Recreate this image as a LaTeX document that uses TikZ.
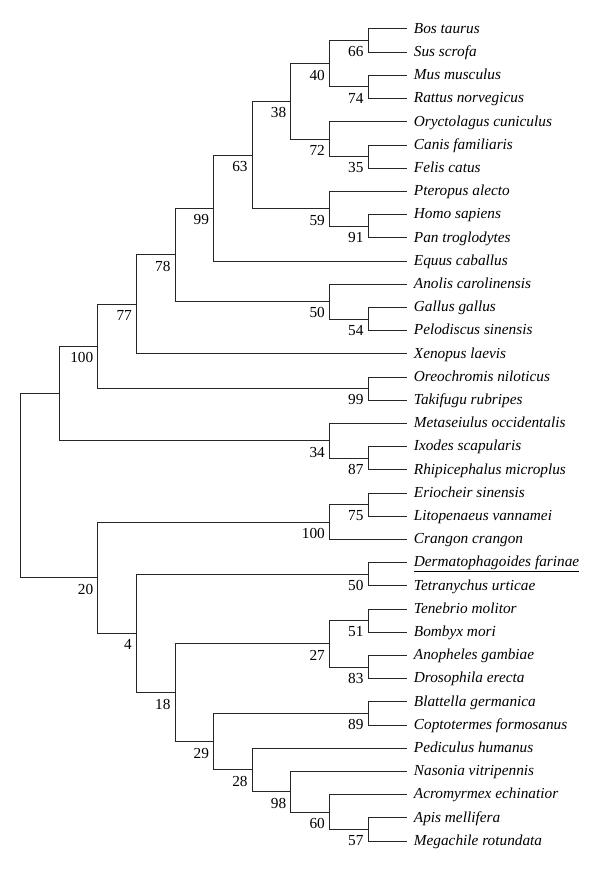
\documentclass[tikz,border=0pt]{standalone}
\usepackage{fontspec}
\setmainfont{Liberation Serif}

\begin{document}
\begin{tikzpicture}[
    x=38.6pt, y=-23.2pt,
    % --- Text styles ---
    leaf/.style={anchor=west, inner xsep=7pt, inner ysep=0pt,
                 text height=8.6pt, text depth=0pt,
                 font=\fontsize{15.3}{18}\selectfont\itshape},
    boot/.style={anchor=north east, inner sep=0pt, xshift=-4.5pt, yshift=-6pt,
                 font=\fontsize{15.3}{18}\selectfont},
    % --- Line style ---
    branch/.style={line width=1pt, draw=black!85},
]
\useasboundingbox (-20.7pt,29pt) rectangle (579.3pt,-843pt);

% === Taxa (one row each) ===
\foreach \nm/\txt [count=\i from 0] in {
    bos/Bos taurus, sus/Sus scrofa, mus/Mus musculus, rat/Rattus norvegicus,
    ory/Oryctolagus cuniculus, can/Canis familiaris, fel/Felis catus,
    pte/Pteropus alecto, hom/Homo sapiens, pan/Pan troglodytes,
    equ/Equus caballus, ano/Anolis carolinensis, gal/Gallus gallus,
    pel/Pelodiscus sinensis, xen/Xenopus laevis, ore/Oreochromis niloticus,
    tak/Takifugu rubripes, met/Metaseiulus occidentalis, ixo/Ixodes scapularis,
    rhi/Rhipicephalus microplus, eri/Eriocheir sinensis,
    lit/Litopenaeus vannamei, cra/Crangon crangon,
    der/\underline{Dermatophagoides farinae}, tet/Tetranychus urticae,
    ten/Tenebrio molitor, bom/Bombyx mori, ano2/Anopheles gambiae,
    dro/Drosophila erecta, bla/Blattella germanica,
    cop/Coptotermes formosanus, ped/Pediculus humanus,
    nas/Nasonia vitripennis, acr/Acromyrmex echinatior, api/Apis mellifera,
    meg/Megachile rotundata}
  \node[leaf] (\nm) at (10,\i) {\txt};

% === Internal nodes: vertebrates and ticks/mites ===
\coordinate (n66)  at (9,0.5);
\coordinate (n74)  at (9,2.5);
\coordinate (n40)  at (8,1.5);
\coordinate (n35)  at (9,5.5);
\coordinate (n72)  at (8,4.75);
\coordinate (n38)  at (7,3.125);
\coordinate (n91)  at (9,8.5);
\coordinate (n59)  at (8,7.75);
\coordinate (n63)  at (6,5.4375);
\coordinate (n99a) at (5,7.71875);
\coordinate (n54)  at (9,12.5);
\coordinate (n50a) at (8,11.75);
\coordinate (n78)  at (4,9.734375);
\coordinate (n77)  at (3,11.8671875);
\coordinate (n99b) at (9,15.5);
\coordinate (n100a) at (2,13.68359375);
\coordinate (n87)  at (9,18.5);
\coordinate (n34)  at (8,17.75);
\coordinate (nvert) at (1,15.716796875);

% === Internal nodes: crustaceans, mites and insects ===
\coordinate (n75)  at (9,20.5);
\coordinate (n100b) at (8,21.25);
\coordinate (n50b) at (9,23.5);
\coordinate (n51)  at (9,25.5);
\coordinate (n83)  at (9,27.5);
\coordinate (n27)  at (8,26.5);
\coordinate (n89)  at (9,29.5);
\coordinate (n57)  at (9,34.5);
\coordinate (n60)  at (8,33.75);
\coordinate (n98)  at (7,32.875);
\coordinate (n28)  at (6,31.9375);
\coordinate (n29)  at (5,30.71875);
\coordinate (n18)  at (4,28.609375);
\coordinate (n4)   at (3,26.0546875);
\coordinate (n20)  at (2,23.65234375);
\coordinate (root) at (0,19.6845703125);

% === Branches ===
\draw[branch] (bos.west) -| (n66) |- (sus.west);
\draw[branch] (mus.west) -| (n74) |- (rat.west);
\draw[branch] (n66) -| (n40) |- (n74);
\draw[branch] (can.west) -| (n35) |- (fel.west);
\draw[branch] (ory.west) -| (n72) |- (n35);
\draw[branch] (n40) -| (n38) |- (n72);
\draw[branch] (hom.west) -| (n91) |- (pan.west);
\draw[branch] (pte.west) -| (n59) |- (n91);
\draw[branch] (n38) -| (n63) |- (n59);
\draw[branch] (n63) -| (n99a) |- (equ.west);
\draw[branch] (gal.west) -| (n54) |- (pel.west);
\draw[branch] (ano.west) -| (n50a) |- (n54);
\draw[branch] (n99a) -| (n78) |- (n50a);
\draw[branch] (n78) -| (n77) |- (xen.west);
\draw[branch] (ore.west) -| (n99b) |- (tak.west);
\draw[branch] (n77) -| (n100a) |- (n99b);
\draw[branch] (ixo.west) -| (n87) |- (rhi.west);
\draw[branch] (met.west) -| (n34) |- (n87);
\draw[branch] (n100a) -| (nvert) |- (n34);
\draw[branch] (eri.west) -| (n75) |- (lit.west);
\draw[branch] (n75) -| (n100b) |- (cra.west);
\draw[branch] (der.west) -| (n50b) |- (tet.west);
\draw[branch] (ten.west) -| (n51) |- (bom.west);
\draw[branch] (ano2.west) -| (n83) |- (dro.west);
\draw[branch] (n51) -| (n27) |- (n83);
\draw[branch] (bla.west) -| (n89) |- (cop.west);
\draw[branch] (api.west) -| (n57) |- (meg.west);
\draw[branch] (acr.west) -| (n60) |- (n57);
\draw[branch] (nas.west) -| (n98) |- (n60);
\draw[branch] (ped.west) -| (n28) |- (n98);
\draw[branch] (n89) -| (n29) |- (n28);
\draw[branch] (n27) -| (n18) |- (n29);
\draw[branch] (n50b) -| (n4) |- (n18);
\draw[branch] (n100b) -| (n20) |- (n4);
\draw[branch] (nvert) -| (root) |- (n20);

% === Bootstrap values ===
\node[boot] (b66)   at (n66)   {66};
\node[boot] (b74)   at (n74)   {74};
\node[boot] (b40)   at (n40)   {40};
\node[boot] (b35)   at (n35)   {35};
\node[boot] (b72)   at (n72)   {72};
\node[boot] (b38)   at (n38)   {38};
\node[boot] (b91)   at (n91)   {91};
\node[boot] (b59)   at (n59)   {59};
\node[boot] (b63)   at (n63)   {63};
\node[boot] (b99a)  at (n99a)  {99};
\node[boot] (b54)   at (n54)   {54};
\node[boot] (b50a)  at (n50a)  {50};
\node[boot] (b78)   at (n78)   {78};
\node[boot] (b77)   at (n77)   {77};
\node[boot] (b99b)  at (n99b)  {99};
\node[boot] (b100a) at (n100a) {100};
\node[boot] (b87)   at (n87)   {87};
\node[boot] (b34)   at (n34)   {34};
\node[boot] (b75)   at (n75)   {75};
\node[boot] (b100b) at (n100b) {100};
\node[boot] (b50b)  at (n50b)  {50};
\node[boot] (b51)   at (n51)   {51};
\node[boot] (b83)   at (n83)   {83};
\node[boot] (b27)   at (n27)   {27};
\node[boot] (b89)   at (n89)   {89};
\node[boot] (b57)   at (n57)   {57};
\node[boot] (b60)   at (n60)   {60};
\node[boot] (b98)   at (n98)   {98};
\node[boot] (b28)   at (n28)   {28};
\node[boot] (b29)   at (n29)   {29};
\node[boot] (b18)   at (n18)   {18};
\node[boot] (b4)    at (n4)    {4};
\node[boot] (b20)   at (n20)   {20};

\end{tikzpicture}
\end{document}
